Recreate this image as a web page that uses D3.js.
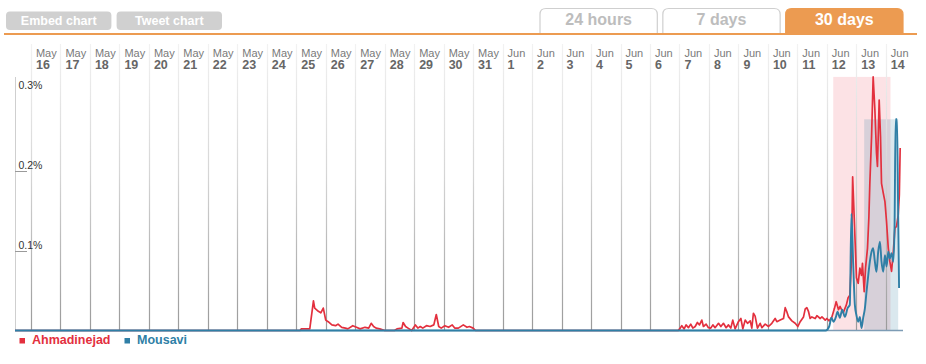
<!DOCTYPE html>
<html><head><meta charset="utf-8">
<script src="https://cdn.jsdelivr.net/npm/d3@7"></script>
<style>
html,body{margin:0;padding:0;background:#fff;}
svg{display:block;font-family:"Liberation Sans",Arial,Helvetica,sans-serif;}
</style></head>
<body>
<svg id="chart" width="926" height="364"></svg>
<script>
// ---- data (hours since 2009-05-16 00:00, share of tweets in %) ----
const ahmadinejad = [
 [-13,0],[219,0],[220,0.002],[227,0.002],[230,0.037],[231,0.028],[234,0.024],[236,0.022],[238,0.028],[240,0.013],
 [242,0.011],[245,0.007],[248,0.006],[250,0.008],[253,0.004],[256,0.003],[258,0.002],[262,0.006],[265,0.004],[268,0.002],
 [272,0.004],[275,0.003],[277,0.009],[279,0.005],[281,0.003],[284,0.002],[288,0],[296,0],[298,0.002],[302,0.003],
 [303,0.010],[305,0.005],[307,0.003],[310,0],[313,0.007],[315,0.003],[317,0.005],[319,0.003],[322,0.006],[325,0.005],
 [328,0.007],[330,0.020],[332,0.005],[334,0.003],[337,0.006],[340,0.004],[343,0.007],[345,0.003],[348,0.003],[352,0.007],
 [355,0.004],[357,0.005],[360,0.003],[362,0],[527,0],
 [528.6,0.003],[529.9,0.006],[531.8,0.002],[533.4,0.007],[535.3,0.0035],[537.2,0.008],[538.9,0.003],[540.8,0.005],
 [542.6,0.010],[544.3,0.007],[546.2,0.013],[547.5,0.005],[549.7,0.008],[551.6,0.0035],[553.5,0.003],[555.2,0.007],
 [557,0.0035],[559.8,0.009],[561.7,0.005],[563.8,0.009],[566,0.0035],[567.9,0.007],[569.8,0.003],[571.4,0.013],
 [573.3,0.002],[576,0.011],[578,0.015],[579.6,0.002],[581.5,0.013],[583.4,0.009],[585.6,0.012],[586.9,0.003],
 [588.2,0.0215],[589.6,0.018],[591.5,0.003],[593.7,0.009],[595.1,0.0035],[597.8,0.008],[600.5,0.005],[603.2,0.009],
 [605.9,0.015],[607.3,0.011],[610,0.013],[612.7,0.015],[614.1,0.0285],[615.4,0.0235],[616.8,0.017],[619.5,0.012],
 [622.2,0.009],[624.4,0.005],[626.3,0.011],[629,0.017],[630.4,0.027],[631.7,0.0285],[633.1,0.0235],[634.4,0.015],
 [635.8,0.017],[638.5,0.015],[639.9,0.0185],[642.6,0.015],[644,0.017],[646.7,0.013],[648,0.015],[649.9,0.012],
 [652.1,0.017],[654.2,0.0277],[655.6,0.036],[657.5,0.026],[658.8,0.030],[660.7,0.0235],[661.3,0.022],[663.9,0.032],
 [665.3,0.041],[666.7,0.044],[668,0.086],[669,0.192],[670.2,0.144],[672.1,0.066],[673.5,0.059],[674.9,0.078],
 [676.2,0.069],[677,0.084],[678.4,0.0485],[679.5,0.078],[681.1,0.103],[682.2,0.141],[683,0.184],[684.4,0.242],
 [685.7,0.317],[687.1,0.276],[688.4,0.222],[689.2,0.205],[690.6,0.288],[691.7,0.242],[692.5,0.184],[693.9,0.172],
 [695.3,0.161],[696.6,0.136],[698,0.103],[699.3,0.086],[700.7,0.074],[702.1,0.0985],[703.4,0.128],[704.7,0.130],
 [706.1,0.144],[707,0.169],[707.7,0.228]
];
const mousavi = [
 [-13,0],[647,0],[649.9,0.005],[651.8,0.016],[653.4,0.011],[655.4,0.017],[656.7,0.0235],[658.6,0.016],[660.5,0.026],
 [662.7,0.017],[664.9,0.028],[666.7,0.032],[668,0.146],[669.4,0.086],[670.8,0.032],[672.1,0.019],[673.5,0.011],
 [674.9,0.017],[676.2,0.003],[677.6,0.016],[679,0.028],[680.3,0.0485],[681.7,0.069],[683,0.086],[684.4,0.0985],
 [685.7,0.103],[687.1,0.086],[688.4,0.0735],[689.8,0.0985],[691.2,0.111],[692.5,0.086],[693.9,0.0735],[695.3,0.094],
 [696.6,0.080],[698,0.0985],[699.3,0.090],[700.7,0.0965],[702.1,0.086],[703.1,0.128],[704,0.264],[705.1,0.264],
 [706,0.155],[706.8,0.053]
];
// highlighted spans (hours) for each candidate
const ahmadSpan = [653.2, 699.8];
const mousaviSpan = [678.4, 706.1];
const xDomainHours = [-13, 710];
// tick labels
const tickMonths = ["May","May","May","May","May","May","May","May","May","May","May","May","May","May","May","May",
                    "Jun","Jun","Jun","Jun","Jun","Jun","Jun","Jun","Jun","Jun","Jun","Jun","Jun","Jun"];
const tickDays = ["16","17","18","19","20","21","22","23","24","25","26","27","28","29","30","31",
                  "1","2","3","4","5","6","7","8","9","10","11","12","13","14"];
const yTicks = [0.1, 0.2, 0.3];
const yTickLabels = ["0.1%","0.2%","0.3%"];
const seriesNames = ["Ahmadinejad","Mousavi"];
const seriesColors = ["#e3303e","#2f7fa6"];
const buttons = ["Embed chart","Tweet chart"];
const tabs = ["24 hours","7 days","30 days"];

// ---- drawing ----
const svg = d3.select("#chart");
const base = new Date(2009, 4, 16, 0, 0, 0);
const T = h => new Date(base.getTime() + h * 3600e3);

const x = d3.scaleTime().domain(xDomainHours.map(T)).range([15, 903]);
const y = d3.scaleLinear().domain([0, 0.3]).range([330.5, 90.5]);

const defs = svg.append("defs");
const grad = defs.append("linearGradient").attr("id","gridGrad")
  .attr("gradientUnits","userSpaceOnUse").attr("x1",0).attr("y1",44).attr("x2",0).attr("y2",330);
grad.append("stop").attr("offset","0%").attr("stop-color","#f2f2f2");
grad.append("stop").attr("offset","45%").attr("stop-color","#d6d6d6");
grad.append("stop").attr("offset","100%").attr("stop-color","#9a9a9a");

// buttons
const btnX = d3.scaleBand().domain(buttons).range([6, 222]).paddingInner(0.047);
const bg = svg.append("g");
buttons.forEach(b => {
  bg.append("rect").attr("x", btnX(b)).attr("y", 11.5).attr("width", btnX.bandwidth()).attr("height", 18.5)
    .attr("rx", 4).attr("fill", "#d0d0d0");
  bg.append("text").attr("x", btnX(b) + btnX.bandwidth()/2).attr("y", 24.5).attr("text-anchor","middle")
    .attr("font-size", 12.5).attr("font-weight","bold").attr("fill","#fff").text(b);
});

// tabs
const tabX = d3.scaleBand().domain(tabs).range([540, 903]).paddingInner(0.045);
tabs.forEach((t, i) => {
  const active = i === tabs.length - 1;
  const x0 = tabX(t), w = tabX.bandwidth(), top = 8.5, bot = 34, r = 6;
  const p = `M${x0},${bot} L${x0},${top + r} Q${x0},${top} ${x0 + r},${top} L${x0 + w - r},${top} Q${x0 + w},${top} ${x0 + w},${top + r} L${x0 + w},${bot}`;
  svg.append("path").attr("d", active ? p + "Z" : p)
    .attr("fill", active ? "#ec9b51" : "#fff")
    .attr("stroke", active ? "#ec9b51" : "#cfcfcf").attr("stroke-width", 1.2);
  svg.append("text").attr("x", x0 + w/2).attr("y", 25).attr("text-anchor","middle")
    .attr("font-size", 16).attr("font-weight","bold").attr("fill", active ? "#fff" : "#bdbdbd").text(t);
});
svg.append("line").attr("x1", 4).attr("x2", 917).attr("y1", 34).attr("y2", 34)
  .attr("stroke", "#ec9b51").attr("stroke-width", 2.2);

// highlight spans
svg.append("rect").attr("x", x(T(ahmadSpan[0]))).attr("width", x(T(ahmadSpan[1])) - x(T(ahmadSpan[0])))
  .attr("y", y(d3.max(ahmadinejad, d => d[1]))).attr("height", y(0) - y(d3.max(ahmadinejad, d => d[1])))
  .attr("fill", "rgba(236,50,72,0.14)");
svg.append("rect").attr("x", x(T(mousaviSpan[0]))).attr("width", x(T(mousaviSpan[1])) - x(T(mousaviSpan[0])))
  .attr("y", y(d3.max(mousavi, d => d[1]))).attr("height", y(0) - y(d3.max(mousavi, d => d[1])))
  .attr("fill", "rgba(70,140,170,0.2)");

// day grid lines and labels
const dayStarts = tickDays.map((d, i) => d3.timeDay.offset(base, i));
svg.append("g").selectAll("line").data(dayStarts).join("line")
  .attr("x1", d => Math.round(x(d)) + 0.5).attr("x2", d => Math.round(x(d)) + 0.5)
  .attr("y1", 44).attr("y2", 330).attr("stroke", "url(#gridGrad)").attr("stroke-width", 1.2);
const lbl = svg.append("g");
dayStarts.forEach((d, i) => {
  lbl.append("text").attr("x", x(d) + 5).attr("y", 56.5).attr("font-size", 11).attr("fill", "#7a7a7a").text(tickMonths[i]);
  lbl.append("text").attr("x", x(d) + 5).attr("y", 68.5).attr("font-size", 12.5).attr("font-weight","bold")
    .attr("fill", "#666").text(tickDays[i]);
});

// left axis line
svg.append("line").attr("x1", 15.5).attr("x2", 15.5).attr("y1", 77).attr("y2", 330.5).attr("stroke", "#cfcfcf");

// y ticks
yTicks.forEach((v, i) => {
  if (i < yTicks.length - 1)
    svg.append("line").attr("x1", 15).attr("x2", 27).attr("y1", Math.round(y(v)) + 0.5).attr("y2", Math.round(y(v)) + 0.5)
      .attr("stroke", "#9a9a9a");
  svg.append("text").attr("x", 18.5).attr("y", y(v) - 1.5).attr("font-size", 10.5).attr("fill", "#333").text(yTickLabels[i]);
});

// x axis baseline
svg.append("line").attr("x1", 15).attr("x2", 903).attr("y1", y(0)).attr("y2", y(0)).attr("stroke", "#7d9cb5").attr("stroke-width", 1.5);

// lines
const line = d3.line().x(d => x(T(d[0]))).y(d => y(d[1]));
svg.append("path").datum(ahmadinejad).attr("d", line).attr("fill","none")
  .attr("stroke", seriesColors[0]).attr("stroke-width", 1.7).attr("stroke-linejoin","round");
svg.append("path").datum(mousavi).attr("d", line.curve(d3.curveMonotoneX)).attr("fill","none")
  .attr("stroke", seriesColors[1]).attr("stroke-width", 1.9).attr("stroke-linejoin","round");

// legend
const lg = svg.append("g");
const legendX = [19.5, 124.5];
seriesNames.forEach((n, i) => {
  lg.append("rect").attr("x", legendX[i]).attr("y", 338).attr("width", 5.5).attr("height", 5.5).attr("fill", seriesColors[i]);
  lg.append("text").attr("x", legendX[i] + 12.5).attr("y", 344).attr("font-size", 12.5).attr("font-weight","bold")
    .attr("fill", seriesColors[i]).text(n);
});
</script>
</body></html>
